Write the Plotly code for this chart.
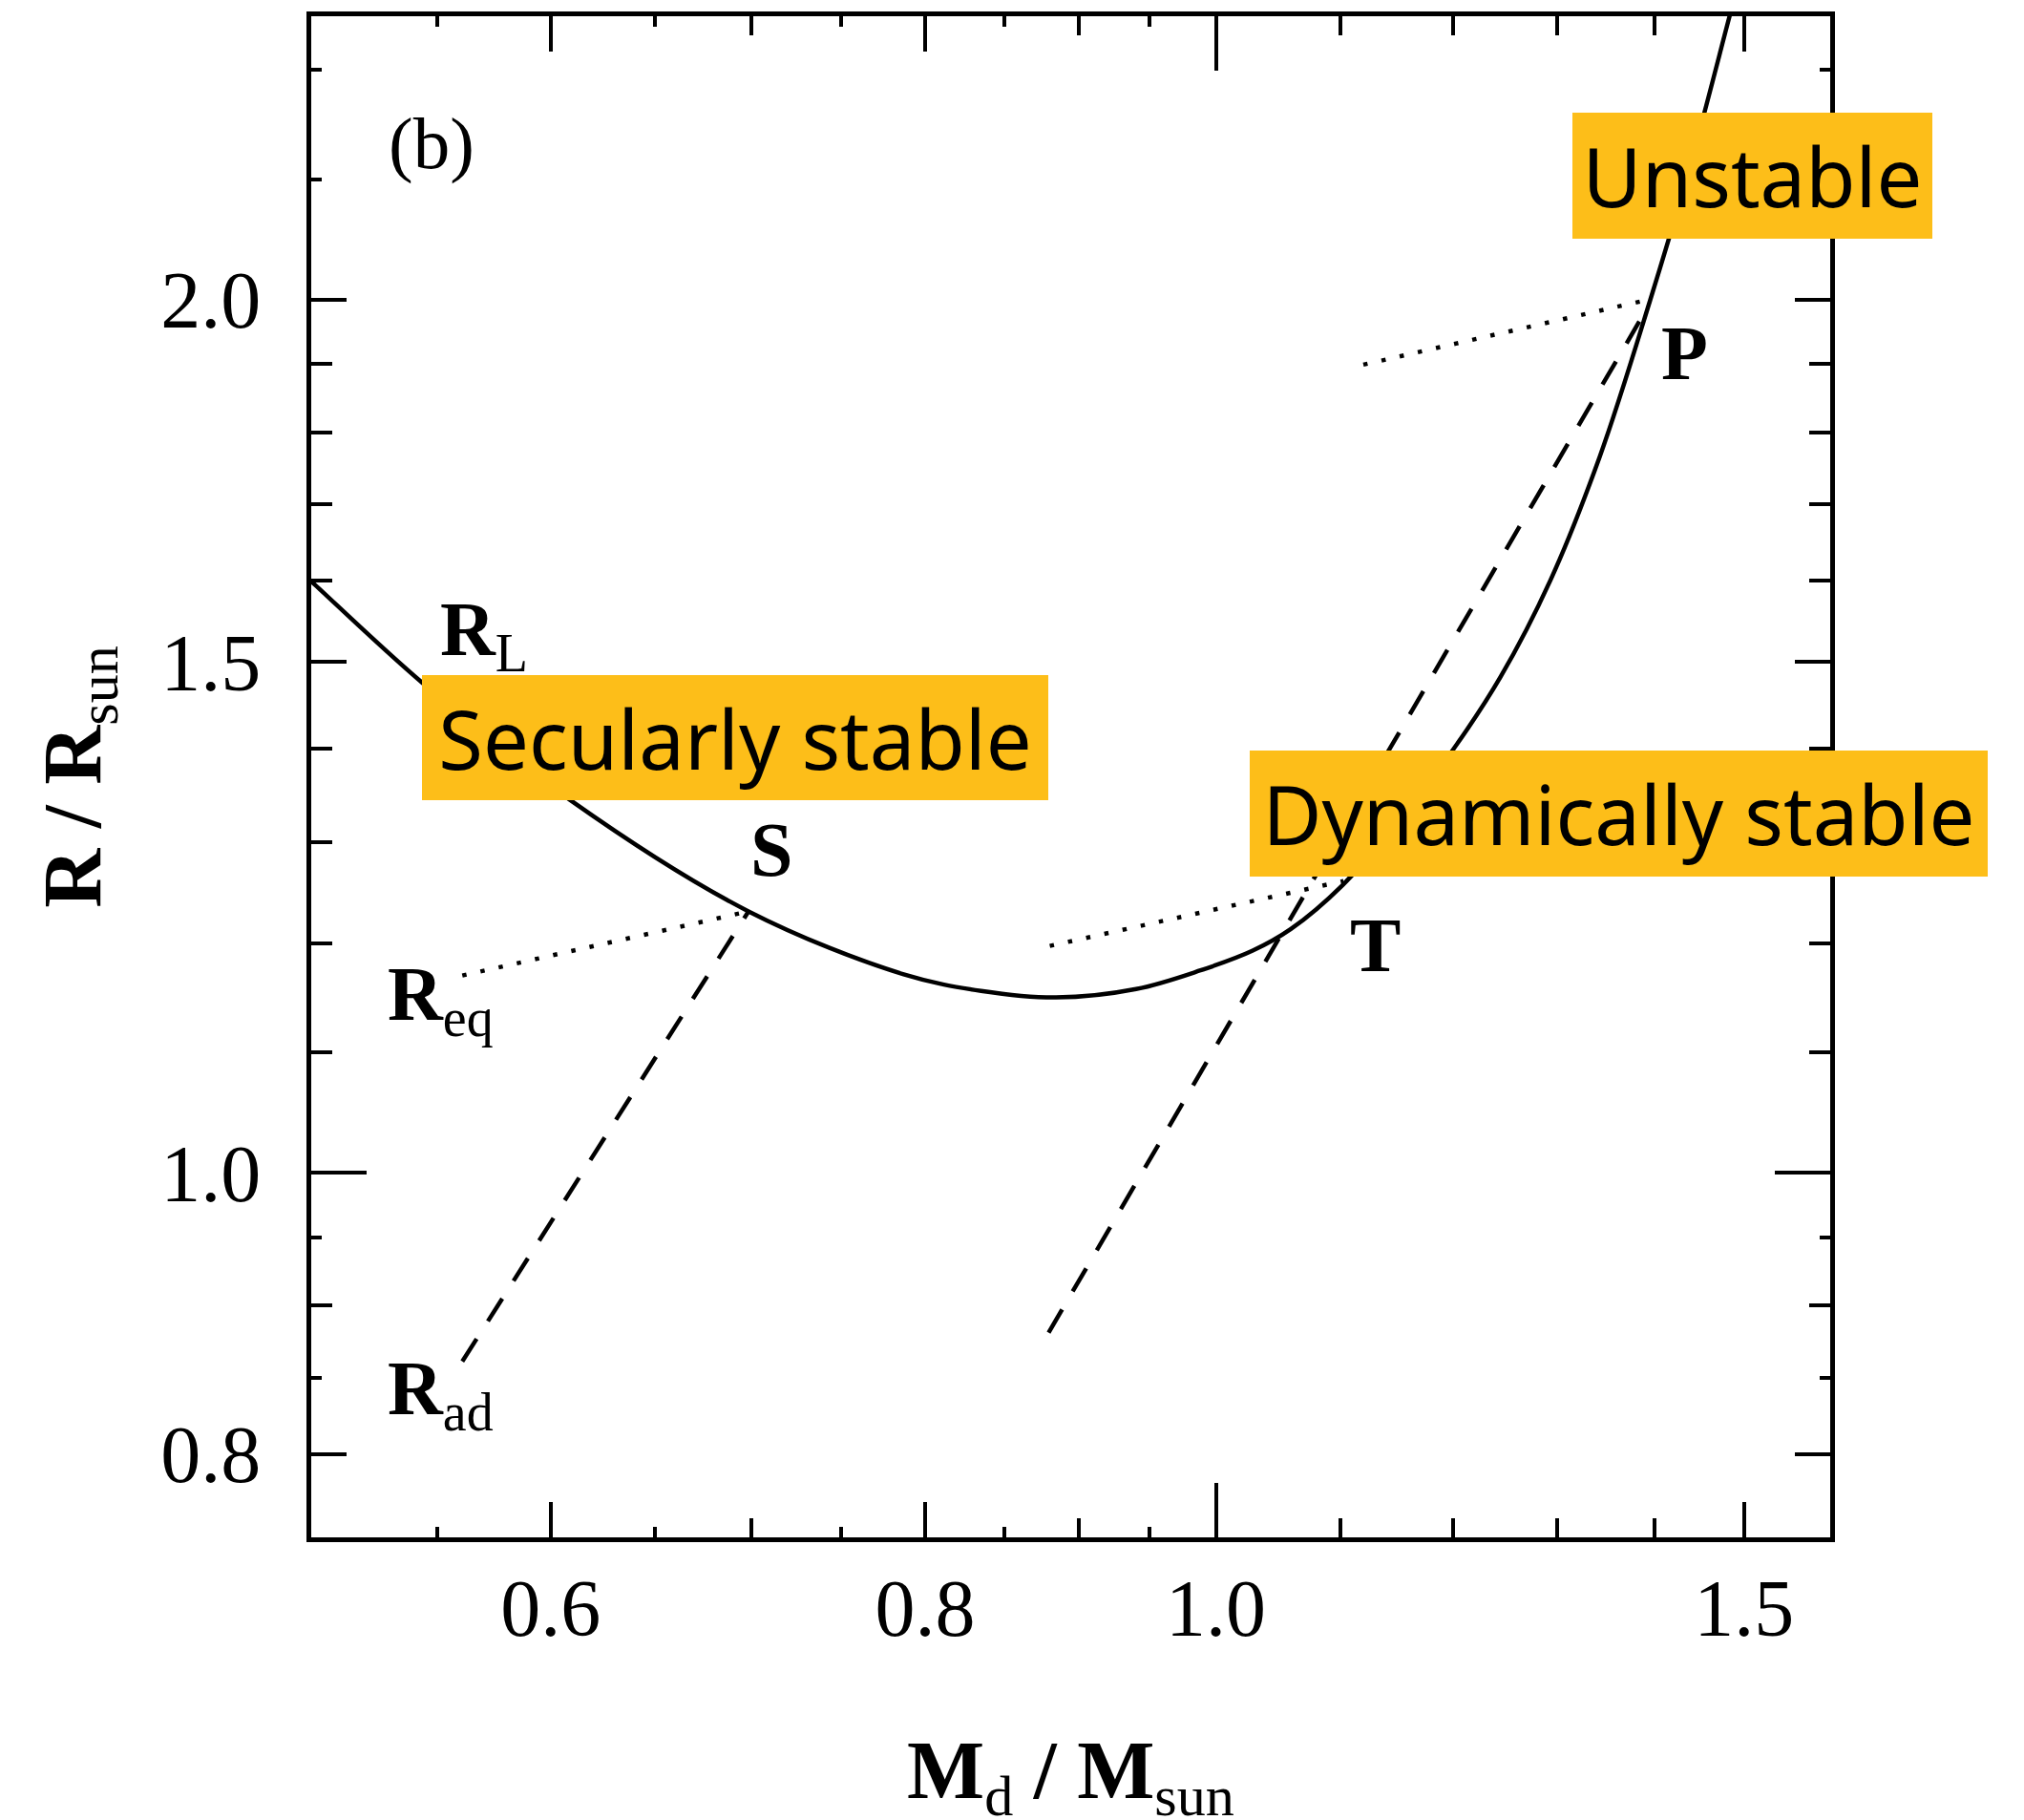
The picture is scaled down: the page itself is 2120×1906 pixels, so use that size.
import numpy as np
import plotly.graph_objects as go

# Roche-lobe radius R_L of the donor versus donor mass (solid curve)
mass_rl = [0.495, 0.500, 0.5435, 0.6093, 0.6985, 0.7869, 0.8351, 0.8845, 0.9406,
           0.9883, 1.0283, 1.0593, 1.1021, 1.1469, 1.1989, 1.2443, 1.2927,
           1.3429, 1.3960, 1.4387, 1.4834, 1.4923]
radius_rl = [1.612, 1.597, 1.476, 1.344, 1.2306, 1.1706, 1.1553, 1.1493, 1.1570,
             1.1743, 1.1926, 1.2135, 1.2564, 1.3172, 1.3977, 1.4823, 1.6000,
             1.7660, 2.0000, 2.2213, 2.5035, 2.562]

# Thermal-equilibrium radius tracks R_eq (dotted) ending at S, T and P
req_s_mass, req_s_radius = [0.5607, 0.6985], [1.1695, 1.2306]
req_t_mass, req_t_radius = [0.8803, 1.1030], [1.1973, 1.2606]
req_p_mass, req_p_radius = [1.1199, 1.3940], [1.8993, 2.0000]

# Adiabatic radius tracks R_ad (dashed)
rad_s_mass, rad_s_radius = [0.5607, 0.6985], [0.8609, 1.2306]
rad_tp_mass, rad_tp_radius = [0.8795, 1.3842], [0.8808, 1.9655]

# Axis ticks
x_major = [0.6, 0.8, 1.0, 1.5]
x_major_text = ["0.6", "0.8", "1.0", "1.5"]
x_mid = [0.7, 0.9, 1.1, 1.2, 1.3, 1.4]
x_short = [0.55, 0.65, 0.75, 0.85, 0.95]
x_long = [1.0]

y_major = [0.8, 1.0, 1.5, 2.0]
y_major_text = ["0.8", "1.0", "1.5", "2.0"]
y_mid = [0.9, 1.1, 1.2, 1.3, 1.4, 1.6, 1.7, 1.8, 1.9]
y_short = [0.85, 0.95, 2.2, 2.4]
y_long = [1.0]

x_range = [np.log10(0.4993), np.log10(1.6027)]
y_range = [np.log10(0.7487), np.log10(2.5045)]

SERIF = "Liberation Serif"
SANS = "Noto Sans"
BOX = "#FDBE19"

fig = go.Figure()

fig.add_trace(go.Scatter(x=mass_rl, y=radius_rl, mode="lines",
                         line=dict(color="black", width=4.5, shape="spline", smoothing=1.0),
                         hoverinfo="skip", showlegend=False))

dotted = dict(color="black", width=4.5, dash="4.5px,15px")
dashed = dict(color="black", width=4.5, dash="28px,22px")
for mx, ry in [(req_s_mass, req_s_radius), (req_t_mass, req_t_radius), (req_p_mass, req_p_radius)]:
    fig.add_trace(go.Scatter(x=mx, y=ry, mode="lines", line=dotted,
                             hoverinfo="skip", showlegend=False))
for mx, ry in [(rad_s_mass, rad_s_radius), (rad_tp_mass, rad_tp_radius)]:
    fig.add_trace(go.Scatter(x=mx, y=ry, mode="lines", line=dashed,
                             hoverinfo="skip", showlegend=False))

# anchors for the secondary (tick-only) axes
fig.add_trace(go.Scatter(x=[1.0], y=[1.0], xaxis="x2", yaxis="y", mode="markers",
                         marker=dict(opacity=0), hoverinfo="skip", showlegend=False))
fig.add_trace(go.Scatter(x=[1.0], y=[1.0], xaxis="x", yaxis="y2", mode="markers",
                         marker=dict(opacity=0), hoverinfo="skip", showlegend=False))

tick_font = dict(family=SERIF, size=84, color="black")
title_font = dict(family=SERIF, size=86, color="black")

common = dict(type="log", showgrid=False, zeroline=False, ticks="inside",
              tickcolor="black", tickwidth=3.5, mirror="ticks")
minor_common = dict(tickmode="array", ticks="inside", tickwidth=3.5,
                    tickcolor="black", showgrid=False)

fig.update_layout(
    width=2120, height=1906,
    margin=dict(l=326, r=203, t=17, b=296, autoexpand=False),
    paper_bgcolor="white", plot_bgcolor="white",
    xaxis=dict(**common, range=x_range, tickmode="array", tickvals=x_major,
               ticktext=x_major_text, ticklen=37, showline=True, linewidth=5,
               linecolor="black", tickfont=tick_font, ticklabelstandoff=-3,
               minor=dict(**minor_common, tickvals=x_mid, ticklen=20)),
    xaxis2=dict(**common, range=x_range, overlaying="x", anchor="y", side="bottom",
                tickmode="array", tickvals=x_long, ticklen=57, showticklabels=False,
                showline=False,
                minor=dict(**minor_common, tickvals=x_short, ticklen=11)),
    yaxis=dict(**common, range=y_range, tickmode="array", tickvals=y_major,
               ticktext=y_major_text, ticklen=37, showline=True, linewidth=5,
               linecolor="black", tickfont=tick_font, ticklabelstandoff=31,
               minor=dict(**minor_common, tickvals=y_mid, ticklen=22),
               title=dict(text="<b>R / R</b><sub>sun</sub>", font=title_font, standoff=36)),
    yaxis2=dict(**common, range=y_range, overlaying="y", anchor="x", side="left",
                tickmode="array", tickvals=y_long, ticklen=58, showticklabels=False,
                showline=False,
                minor=dict(**minor_common, tickvals=y_short, ticklen=11)),
)

# x-axis title sits right at the lower edge of the figure
fig.add_annotation(x=0.5, y=-0.1567, xref="paper", yref="paper",
                   text="<b>M</b><sub>d</sub><b> / M</b><sub>sun</sub>",
                   showarrow=False, xanchor="center", yanchor="middle",
                   font=title_font)

lg = np.log10


def label(text, mx, ry, size=80, family=SERIF, xanchor="center", yanchor="middle"):
    fig.add_annotation(x=lg(mx), y=lg(ry), xref="x", yref="y", text=text,
                       showarrow=False, xanchor=xanchor, yanchor=yanchor,
                       font=dict(family=family, size=size, color="black"))


label("(b)", 0.5477, 2.2650, size=77)
label("<b>R</b><sub>L</sub>", 0.5505, 1.5330, xanchor="left")
label("<b>R</b><sub>eq</sub>", 0.5288, 1.1470, xanchor="left")
label("<b>R</b><sub>ad</sub>", 0.5288, 0.8390, xanchor="left")
label("<b>S</b>", 0.7109, 1.2920)
label("<b>T</b>", 1.1298, 1.1982)
label("<b>P</b>", 1.4328, 1.9167)


def box(text, mx, ry, w, h):
    fig.add_annotation(x=lg(mx), y=lg(ry), xref="x", yref="y", text=text,
                       showarrow=False, xanchor="center", yanchor="middle",
                       width=w, height=h, borderpad=0, borderwidth=0,
                       bgcolor=BOX, align="center", valign="middle",
                       font=dict(family=SANS, size=85, color="black"))


box("Unstable", 1.5099, 2.2072, 377, 132)
box("Secularly stable", 0.6914, 1.4123, 656, 131)
box("Dynamically stable", 1.3623, 1.3295, 773, 132)

fig.write_html("out.html")
